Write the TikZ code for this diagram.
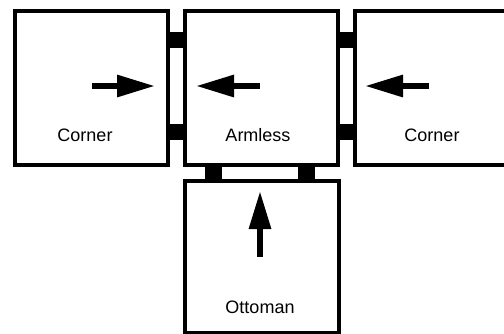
\documentclass[tikz,border=0pt]{standalone}
\usepackage{fontspec}
\setmainfont{Liberation Sans}
\usetikzlibrary{arrows.meta}
\begin{document}
\begin{tikzpicture}[x=1pt,y=-1pt,
  unit/.style={draw=black,line width=4pt,fill=white,inner sep=0pt,minimum width=#1,minimum height=154pt},
  joint/.style={fill=black,draw=none},
  push/.style={line width=6pt,-{Triangle[length=38pt,width=21pt]}},
  lbl/.style={font=\fontsize{18}{21}\selectfont,inner sep=0pt}]
\useasboundingbox (0,0) rectangle (504,333);
% boxes
\node[unit=153pt,anchor=north west] (lc) at (13,9) {};
\node[unit=153pt,anchor=north west] (ar) at (183,9) {};
\node[unit=170pt,anchor=north west] (rc) at (353,9) {};
\node[unit=154pt,minimum height=152pt,anchor=north west] (ot) at (183,179) {};
% joints
\fill[joint] (166,32) rectangle (183,48);
\fill[joint] (166,124) rectangle (183,140);
\fill[joint] (336,32) rectangle (353,48);
\fill[joint] (336,124) rectangle (353,140);
\fill[joint] (205,163) rectangle (222,179);
\fill[joint] (298,163) rectangle (315,179);
% labels
\node[lbl] (t1) at (85,135) {Corner};
\node[lbl] (t2) at (258,135) {Armless};
\node[lbl] (t3) at (432,135) {Corner};
\node[lbl] (t4) at (260,307) {Ottoman};
% arrows
\coordinate (a1s) at (92,86); \coordinate (a1e) at (155,86);
\coordinate (a2s) at (260,86); \coordinate (a2e) at (196,86);
\coordinate (a3s) at (429,86); \coordinate (a3e) at (365,86);
\coordinate (a4s) at (260,257); \coordinate (a4e) at (260,191);
\draw[push] (a1s) -- (a1e);
\draw[push] (a2s) -- (a2e);
\draw[push] (a3s) -- (a3e);
\draw[push] (a4s) -- (a4e);
\end{tikzpicture}
\end{document}
